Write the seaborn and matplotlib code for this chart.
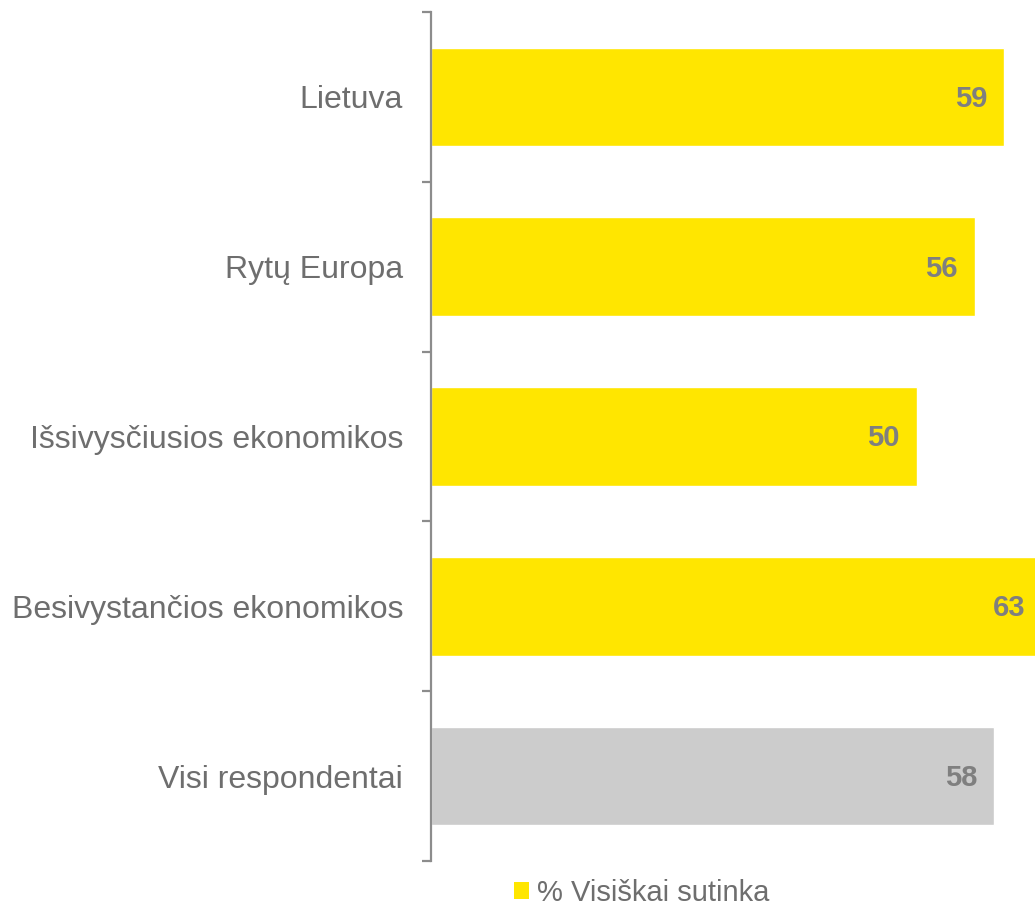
import matplotlib
matplotlib.use("Agg")
import matplotlib.pyplot as plt
import seaborn as sns
import pandas as pd
from matplotlib.patches import Patch

categories = ["Lietuva", "Rytų Europa", "Išsivysčiusios ekonomikos",
              "Besivystančios ekonomikos", "Visi respondentai"]
values = [59, 56, 50, 63, 58]
bar_colors = ["#FFE600", "#FFE600", "#FFE600", "#FFE600", "#CCCCCC"]
legend_label = "% Visiškai sutinka"

sns.set_theme(style="white")
plt.rcParams["font.family"] = ["Liberation Sans", "DejaVu Sans"]

df = pd.DataFrame({"cat": categories, "val": values})

fig = plt.figure(figsize=(10.35, 9.07), dpi=100)
ax = fig.add_axes([431/1035, 1-861/907, 1-431/1035, (861-12)/907])

sns.barplot(data=df, x="val", y="cat", hue="cat", palette=bar_colors,
            legend=False, width=0.58, ax=ax, saturation=1)

ax.set_xlim(0, 62.2)
ax.set_ylim(len(categories)-0.5, -0.5)
ax.set_xlabel("")
ax.set_ylabel("")
ax.set_xticks([])

for s in ["top", "right", "bottom"]:
    ax.spines[s].set_visible(False)
ax.spines["left"].set_color("#8C8C8C")
ax.spines["left"].set_linewidth(1.6)

ax.set_yticks([i - 0.5 for i in range(len(categories)+1)], minor=True)
ax.tick_params(axis="y", which="minor", length=6.5, width=1.6, color="#8C8C8C", left=True)
ax.tick_params(axis="y", which="major", length=0, pad=20, labelsize=23, labelcolor="#6E6E6E")

for i, v in enumerate(values):
    ax.annotate(str(v), xy=(v, i), xytext=(-17, -2), textcoords="offset pixels",
                ha="right", va="center", fontsize=21, fontweight="bold",
                color="#7F7F7F", annotation_clip=False)

handle = Patch(facecolor="#FFE600", edgecolor="none")
fig.legend([handle], [legend_label], loc="center left",
           bbox_to_anchor=(514/1035, 1-893/907), frameon=False,
           fontsize=21, labelcolor="#6E6E6E", handlelength=0.5, handleheight=0.5,
           handletextpad=0.3, borderpad=0, borderaxespad=0)

fig.savefig("out.png", dpi=100)
